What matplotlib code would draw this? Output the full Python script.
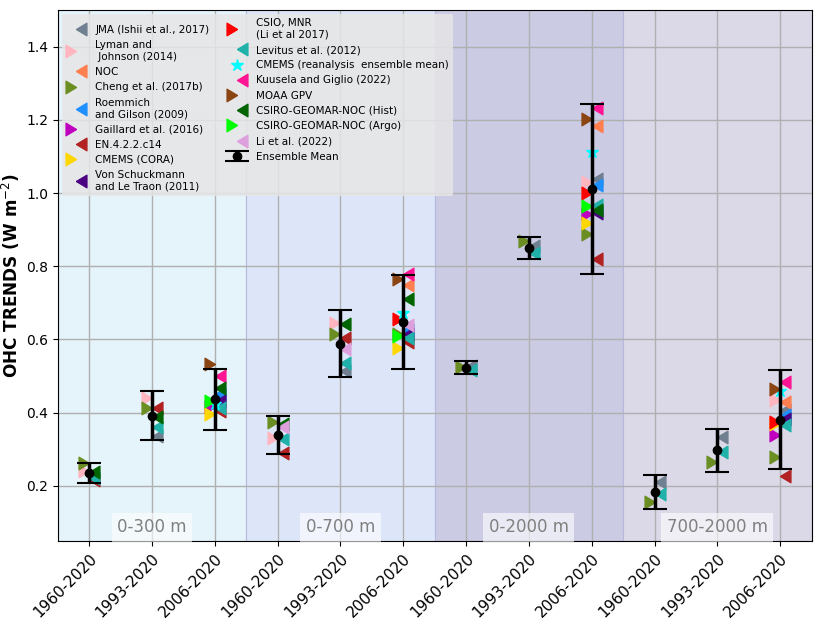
import numpy as np
import matplotlib
matplotlib.use("Agg")
import matplotlib.pyplot as plt

nan = np.nan

# tick labels / layers
periods = ["1960-2020", "1993-2020", "2006-2020"] * 4
layers = ["0-300 m", "0-700 m", "0-2000 m", "700-2000 m"]

# OHC trends per product (W m-2), one value per period/layer slot
jma      = [nan, 0.337, nan, nan, 0.514, nan, 0.527, 0.855, 1.039, 0.212, 0.335, 0.408]
lyman    = [0.242, 0.439, nan, 0.331, 0.644, nan, nan, nan, 1.029, nan, nan, 0.435]
noc      = [nan, nan, nan, nan, nan, 0.750, nan, nan, 1.184, nan, nan, 0.428]
cheng    = [0.262, 0.414, nan, 0.375, 0.614, 0.614, 0.525, 0.868, 0.887, 0.157, 0.265, 0.278]
roemmich = [nan, nan, 0.451, nan, nan, 0.626, nan, nan, 1.023, nan, nan, 0.393]
gaillard = [nan, nan, 0.415, nan, nan, nan, nan, nan, 0.943, nan, nan, 0.340]
en4      = [0.215, 0.412, 0.405, 0.290, 0.603, 0.592, nan, nan, 0.819, nan, nan, 0.228]
cora     = [nan, nan, 0.396, nan, nan, 0.578, nan, nan, 0.919, nan, nan, 0.370]
vonsch   = [nan, nan, 0.433, nan, nan, 0.614, nan, nan, 0.946, nan, nan, 0.383]
csio     = [nan, nan, nan, nan, nan, 0.655, nan, nan, 1.000, nan, nan, 0.376]
levitus  = [0.222, 0.362, 0.414, 0.328, 0.537, 0.605, 0.518, 0.837, 0.966, 0.178, 0.293, 0.366]
cmems_re = [nan, nan, 0.425, nan, nan, 0.671, nan, nan, 1.111, nan, nan, 0.458]
kuusela  = [nan, nan, 0.499, nan, nan, 0.778, nan, nan, 1.232, nan, nan, 0.484]
moaa     = [nan, nan, 0.532, nan, nan, 0.766, nan, nan, 1.202, nan, nan, 0.464]
csiro_h  = [0.238, 0.387, 0.467, 0.369, 0.641, 0.710, nan, nan, 0.955, nan, nan, nan]
csiro_a  = [nan, nan, 0.431, nan, nan, 0.610, nan, nan, 0.964, nan, nan, nan]
li2022   = [nan, nan, nan, 0.360, 0.573, 0.639, nan, nan, nan, nan, nan, nan]

ens_mean = [0.235, 0.392, 0.437, 0.339, 0.589, 0.648, 0.523, 0.849, 1.012, 0.183, 0.297, 0.381]
ens_err  = [0.028, 0.067, 0.083, 0.052, 0.091, 0.129, 0.018, 0.030, 0.232, 0.046, 0.058, 0.135]

# triangles with the tip on the data point (body sits beside the bar)
tri_r = [(0, 0), (-1, 0.6), (-1, -0.6), (0, 0)]
tri_l = [(0, 0), (1, 0.6), (1, -0.6), (0, 0)]

products = [
    (jma, "JMA (Ishii et al., 2017)", "slategray", "<"),
    (lyman, "Lyman and\n Johnson (2014)", "lightpink", ">"),
    (noc, "NOC", "coral", "<"),
    (cheng, "Cheng et al. (2017b)", "olivedrab", ">"),
    (roemmich, "Roemmich\nand Gilson (2009)", "dodgerblue", "<"),
    (gaillard, "Gaillard et al. (2016)", "m", ">"),
    (en4, "EN.4.2.2.c14", "firebrick", "<"),
    (cora, "CMEMS (CORA)", "gold", ">"),
    (vonsch, "Von Schuckmann\nand Le Traon (2011)", "indigo", "<"),
    (csio, "CSIO, MNR\n(Li et al 2017)", "red", ">"),
    (levitus, "Levitus et al. (2012)", "lightseagreen", "<"),
    (cmems_re, "CMEMS (reanalysis  ensemble mean)", "cyan", "*"),
    (kuusela, "Kuusela and Giglio (2022)", "deeppink", "<"),
    (moaa, "MOAA GPV", "saddlebrown", ">"),
    (csiro_h, "CSIRO-GEOMAR-NOC (Hist)", "darkgreen", "<"),
    (csiro_a, "CSIRO-GEOMAR-NOC (Argo)", "lime", ">"),
    (li2022, "Li et al. (2022)", "plum", "<"),
]

fig = plt.figure(figsize=(8.24, 6.21), dpi=100)
ax = fig.add_axes([0.070, 0.129, 0.915, 0.855])

x = np.arange(len(periods))
bg = ["#e5f3fa", "#dde6f8", "#cbcbe4", "#dbd8e7"]
for k in range(4):
    ax.axvspan(3 * k - 0.5, 3 * k + 2.5, facecolor=bg[k], edgecolor="#b8b8dc",
               linewidth=0.8, zorder=0)

for vals, lab, col, mk in products:
    if mk == "*":
        ax.plot(x, vals, linestyle="none", marker="*", color=col,
                markersize=9, label=lab, zorder=3)
    else:
        m = tri_r if mk == ">" else tri_l
        ax.plot(x, vals, linestyle="none", marker=m, color=col,
                markersize=15, label=lab, zorder=3)

ax.errorbar(x, ens_mean, yerr=ens_err, fmt="o", color="black", markersize=6,
            elinewidth=2.5, capsize=8.5, capthick=1.5, label="Ensemble Mean", zorder=4)

for k, name in enumerate(layers):
    ax.text(3 * k + 1, 0.087, name, ha="center", va="center", fontsize=12, color="gray",
            bbox=dict(facecolor="white", alpha=0.6, edgecolor="none", pad=4), zorder=5)

ax.set_xlim(-0.5, 11.5)
ax.set_ylim(0.05, 1.5)
ax.set_xticks(x)
ax.set_xticklabels(periods, rotation=45, ha="right", rotation_mode="anchor", fontsize=11)
ax.tick_params(axis="y", labelsize=10)
ax.set_yticks([0.2, 0.4, 0.6, 0.8, 1.0, 1.2, 1.4])
ax.grid(True, color="#b0b0b0", linewidth=1, zorder=1)
ax.set_axisbelow(True)
ax.set_ylabel("OHC TRENDS (W m$^{-2}$)", fontsize=12.2, fontweight="bold", labelpad=3)

ax.legend(loc="upper left", ncol=2, fontsize=7.5, facecolor="#e6e6e6", framealpha=0.85,
          edgecolor="none", borderaxespad=0.4, columnspacing=1.7, handletextpad=0.8,
          labelspacing=0.5)

fig.savefig("out.png", dpi=100)
